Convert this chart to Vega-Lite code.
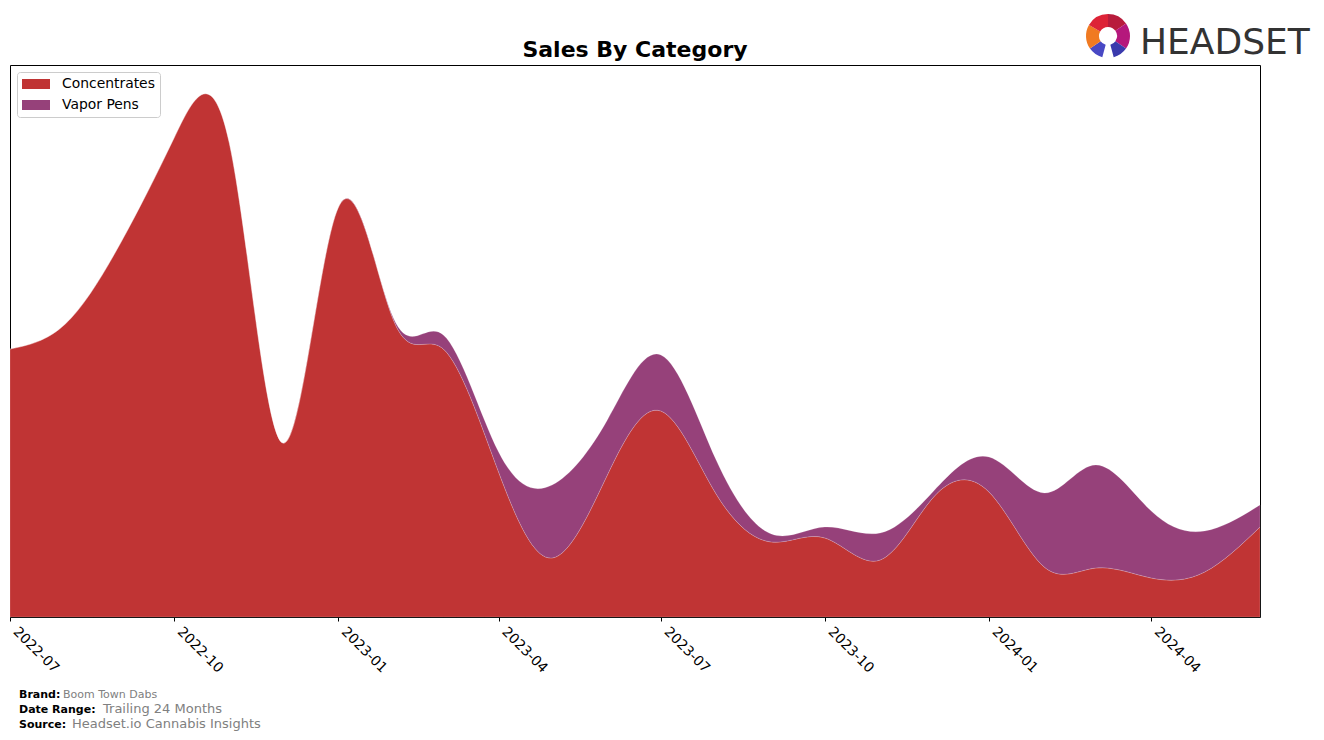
{
  "$schema": "https://vega.github.io/schema/vega-lite/v6.json",
  "width": 1250,
  "height": 552,
  "autosize": {"type": "none"},
  "padding": {"left": 10, "top": 65, "right": 64, "bottom": 123},
  "background": "white",
  "config": {
    "font": "DejaVu Sans",
    "view": {"stroke": "black", "strokeWidth": 1}
  },
  "data": {
    "values": [
      {"date": "2022-07-01", "category": "Concentrates", "sales": 268},
      {"date": "2022-08-01", "category": "Concentrates", "sales": 293},
      {"date": "2022-09-01", "category": "Concentrates", "sales": 374},
      {"date": "2022-10-01", "category": "Concentrates", "sales": 479},
      {"date": "2022-11-01", "category": "Concentrates", "sales": 474},
      {"date": "2022-12-01", "category": "Concentrates", "sales": 174},
      {"date": "2023-01-01", "category": "Concentrates", "sales": 409},
      {"date": "2023-02-01", "category": "Concentrates", "sales": 297},
      {"date": "2023-03-01", "category": "Concentrates", "sales": 268},
      {"date": "2023-04-01", "category": "Concentrates", "sales": 145},
      {"date": "2023-05-01", "category": "Concentrates", "sales": 59},
      {"date": "2023-06-01", "category": "Concentrates", "sales": 142},
      {"date": "2023-07-01", "category": "Concentrates", "sales": 206},
      {"date": "2023-08-01", "category": "Concentrates", "sales": 123},
      {"date": "2023-09-01", "category": "Concentrates", "sales": 75},
      {"date": "2023-10-01", "category": "Concentrates", "sales": 79},
      {"date": "2023-11-01", "category": "Concentrates", "sales": 57},
      {"date": "2023-12-01", "category": "Concentrates", "sales": 120},
      {"date": "2024-01-01", "category": "Concentrates", "sales": 125},
      {"date": "2024-02-01", "category": "Concentrates", "sales": 50},
      {"date": "2024-03-01", "category": "Concentrates", "sales": 49},
      {"date": "2024-04-01", "category": "Concentrates", "sales": 39},
      {"date": "2024-05-01", "category": "Concentrates", "sales": 45},
      {"date": "2024-06-01", "category": "Concentrates", "sales": 90},
      {"date": "2022-07-01", "category": "Vapor Pens", "sales": 0},
      {"date": "2022-08-01", "category": "Vapor Pens", "sales": 0},
      {"date": "2022-09-01", "category": "Vapor Pens", "sales": 0},
      {"date": "2022-10-01", "category": "Vapor Pens", "sales": 0},
      {"date": "2022-11-01", "category": "Vapor Pens", "sales": 0},
      {"date": "2022-12-01", "category": "Vapor Pens", "sales": 0},
      {"date": "2023-01-01", "category": "Vapor Pens", "sales": 0},
      {"date": "2023-02-01", "category": "Vapor Pens", "sales": 2},
      {"date": "2023-03-01", "category": "Vapor Pens", "sales": 14},
      {"date": "2023-04-01", "category": "Vapor Pens", "sales": 20},
      {"date": "2023-05-01", "category": "Vapor Pens", "sales": 73},
      {"date": "2023-06-01", "category": "Vapor Pens", "sales": 55},
      {"date": "2023-07-01", "category": "Vapor Pens", "sales": 56},
      {"date": "2023-08-01", "category": "Vapor Pens", "sales": 34},
      {"date": "2023-09-01", "category": "Vapor Pens", "sales": 8},
      {"date": "2023-10-01", "category": "Vapor Pens", "sales": 11},
      {"date": "2023-11-01", "category": "Vapor Pens", "sales": 27},
      {"date": "2023-12-01", "category": "Vapor Pens", "sales": 6},
      {"date": "2024-01-01", "category": "Vapor Pens", "sales": 35},
      {"date": "2024-02-01", "category": "Vapor Pens", "sales": 74},
      {"date": "2024-03-01", "category": "Vapor Pens", "sales": 103},
      {"date": "2024-04-01", "category": "Vapor Pens", "sales": 67},
      {"date": "2024-05-01", "category": "Vapor Pens", "sales": 41},
      {"date": "2024-06-01", "category": "Vapor Pens", "sales": 22}
    ]
  },
  "layer": [
    {
      "mark": {"type": "area", "interpolate": "natural", "stroke": "#ffffff", "strokeWidth": 0.5, "strokeOpacity": 0.35},
      "encoding": {
        "x": {
          "field": "date", "type": "temporal",
          "scale": {"type": "utc", "domain": [{"year": 2022, "month": 7, "date": 1, "utc": true}, {"year": 2024, "month": 6, "date": 1, "utc": true}]},
          "axis": {
            "title": null, "format": "%Y-%m", "domain": false, "grid": false,
            "values": [
              {"year": 2022, "month": 7, "date": 1, "utc": true},
              {"year": 2022, "month": 10, "date": 1, "utc": true},
              {"year": 2023, "month": 1, "date": 1, "utc": true},
              {"year": 2023, "month": 4, "date": 1, "utc": true},
              {"year": 2023, "month": 7, "date": 1, "utc": true},
              {"year": 2023, "month": 10, "date": 1, "utc": true},
              {"year": 2024, "month": 1, "date": 1, "utc": true},
              {"year": 2024, "month": 4, "date": 1, "utc": true}
            ],
            "tickColor": "black", "tickSize": 4, "tickWidth": 1,
            "labelAngle": 45, "labelAlign": "left", "labelBaseline": "bottom",
            "labelFontSize": 13.9, "labelColor": "black", "labelPadding": 13,
            "labelOverlap": false, "labelBound": false, "labelFlush": false
          }
        },
        "y": {"field": "sales", "type": "quantitative", "stack": "zero", "scale": {"domain": [0, 552], "nice": false, "zero": true}, "axis": null},
        "color": {
          "field": "category", "type": "nominal",
          "scale": {"domain": ["Concentrates", "Vapor Pens"], "range": ["#c03434", "#96417a"]},
          "legend": {
            "orient": "top-left", "offset": 7, "title": null,
            "fillColor": "white", "strokeColor": "#cccccc", "cornerRadius": 3, "padding": 5,
            "symbolType": "M-2,-0.714L2,-0.714L2,0.714L-2,0.714Z", "symbolSize": 196,
            "symbolOffset": 7,
            "symbolStrokeWidth": 0, "symbolOpacity": 1,
            "labelFontSize": 13.9, "labelColor": "black", "labelOffset": 19, "rowPadding": 7
          }
        },
        "order": {"field": "category", "sort": "ascending"}
      }
    },
    {"data": {"values": [{}]}, "mark": {"type": "text", "text": "Sales By Category", "x": 625, "y": -8, "align": "center", "baseline": "alphabetic", "fontSize": 22, "fontWeight": "bold", "color": "black"}, "encoding": {}},
    {"data": {"values": [{}]}, "mark": {"type": "text", "text": "Brand:", "x": 9, "y": 633, "align": "left", "baseline": "alphabetic", "fontSize": 11, "fontWeight": "bold", "color": "black"}, "encoding": {}},
    {"data": {"values": [{}]}, "mark": {"type": "text", "text": "Boom Town Dabs", "x": 53, "y": 633, "align": "left", "baseline": "alphabetic", "fontSize": 11, "color": "#808080"}, "encoding": {}},
    {"data": {"values": [{}]}, "mark": {"type": "text", "text": "Date Range:", "x": 9, "y": 648, "align": "left", "baseline": "alphabetic", "fontSize": 11, "fontWeight": "bold", "color": "black"}, "encoding": {}},
    {"data": {"values": [{}]}, "mark": {"type": "text", "text": "Trailing 24 Months", "x": 93, "y": 648, "align": "left", "baseline": "alphabetic", "fontSize": 13, "color": "#808080"}, "encoding": {}},
    {"data": {"values": [{}]}, "mark": {"type": "text", "text": "Source:", "x": 9, "y": 663, "align": "left", "baseline": "alphabetic", "fontSize": 11, "fontWeight": "bold", "color": "black"}, "encoding": {}},
    {"data": {"values": [{}]}, "mark": {"type": "text", "text": "Headset.io Cannabis Insights", "x": 62, "y": 663, "align": "left", "baseline": "alphabetic", "fontSize": 13, "color": "#808080"}, "encoding": {}},
    {"data": {"values": [{}]}, "mark": {"type": "text", "text": "HEADSET", "x": 1130, "y": -11, "align": "left", "baseline": "alphabetic", "fontSize": 36, "font": "DejaVu Sans", "color": "#333333"}, "encoding": {}},
    {
      "data": {"values": [
        {"seg": 1, "part": "a", "deg": 55},
        {"seg": 2, "part": "b", "deg": 70},
        {"seg": 3, "part": "c", "deg": 40},
        {"seg": 4, "part": "d", "deg": 30},
        {"seg": 5, "part": "e", "deg": 40},
        {"seg": 6, "part": "f", "deg": 65},
        {"seg": 7, "part": "g", "deg": 60}
      ]},
      "mark": {"type": "arc", "x": 1098, "y": -29, "radius": 22, "radius2": 9},
      "encoding": {
        "theta": {"field": "deg", "type": "quantitative", "stack": true},
        "order": {"field": "seg", "type": "quantitative", "sort": "ascending"},
        "color": {"field": "part", "type": "nominal", "legend": null,
          "scale": {"domain": ["a", "b", "c", "d", "e", "f", "g"], "range": ["#b81c3c", "#b5187c", "#3a3aad", "transparent", "#4848c4", "#f07a22", "#dd2337"]}}
      }
    }
  ],
  "resolve": {"scale": {"color": "independent", "theta": "independent"}}
}
